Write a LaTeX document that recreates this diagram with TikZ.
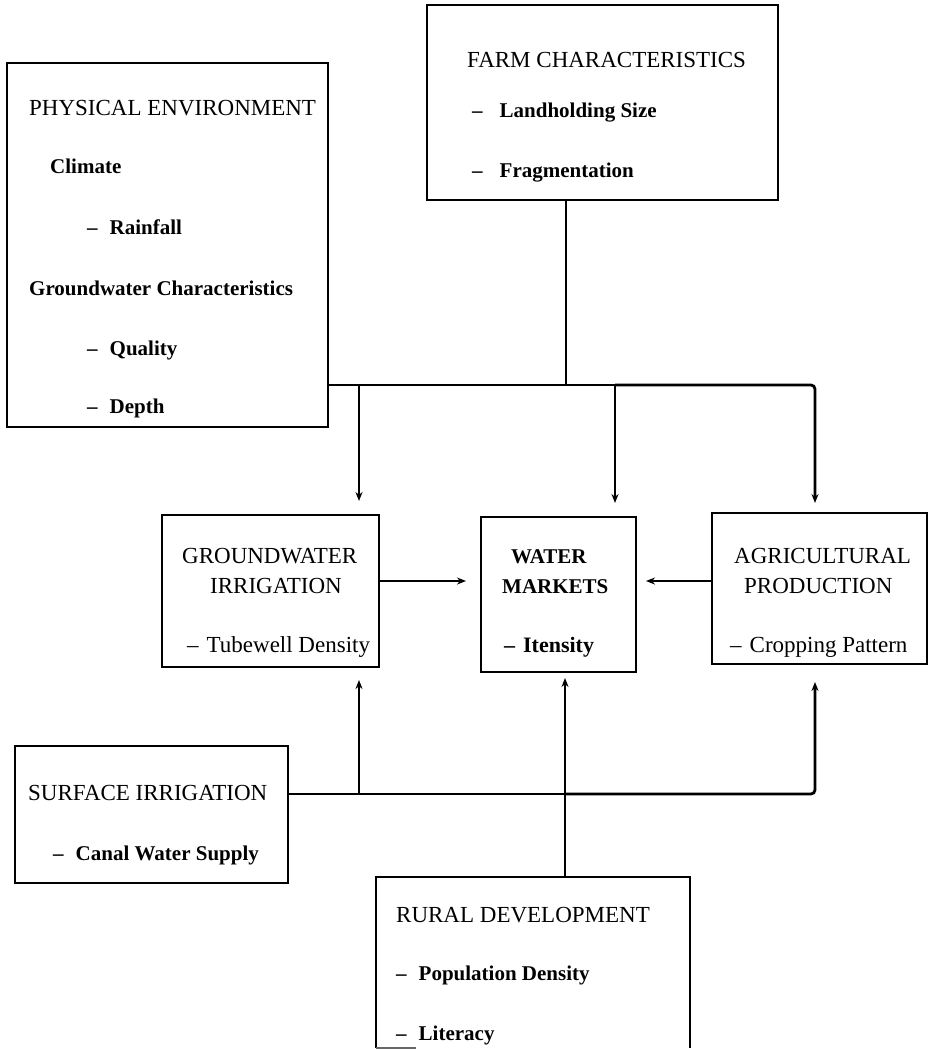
\documentclass[tikz,border=0pt]{standalone}
\usepackage{fontspec}
\setmainfont{Liberation Serif}
\usetikzlibrary{arrows.meta}
\tikzset{
  box/.style={draw=black, line width=2.8pt, rectangle, inner sep=0pt, outer sep=0pt, anchor=north west},
  ttl/.style={font=\fontsize{23}{23}\selectfont, anchor=base west, inner sep=0pt},
  itm/.style={font=\fontsize{21}{21}\selectfont\bfseries, anchor=base west, inner sep=0pt},
  mitm/.style={font=\fontsize{23}{23}\selectfont, anchor=base west, inner sep=0pt},
  wire/.style={line width=2.8pt, draw=black},
  arr/.style={wire, -{Stealth[length=9pt,width=7pt]}}
}
\newcommand{\dsh}[1]{--\hspace{#1pt}}
\begin{document}
\begin{tikzpicture}[x=1pt,y=-1pt]
\path[use as bounding box, fill=white] (0,0) rectangle (930,1050);

% boxes
\node[box, minimum width=321pt, minimum height=364pt] (phys) at (7,63) {};
\node[box, minimum width=351pt, minimum height=195pt] (farm) at (427,5) {};
\node[box, minimum width=217pt, minimum height=152pt] (gw) at (162,515) {};
\node[box, minimum width=155pt, minimum height=155pt] (wm) at (481,517) {};
\node[box, minimum width=215pt, minimum height=151pt] (agri) at (712,513) {};
\node[box, minimum width=273pt, minimum height=137pt] (surf) at (15,746) {};
\node[box, draw=none, minimum width=314pt, minimum height=171pt] (rural) at (376,877) {};
\draw[wire] (rural.south west) -- (rural.north west) -- (rural.north east) -- (rural.south east);
\draw[line width=1.2pt, black!60] (rural.south west) -- ++(40,0);

% texts: physical environment
\node[ttl] (t1) at (29,115) {PHYSICAL ENVIRONMENT};
\node[itm] (t2) at (50,173) {Climate};
\node[itm] (t3) at (87,234) {\dsh{12}Rainfall};
\node[itm] (t4) at (29,295) {Groundwater Characteristics};
\node[itm] (t5) at (87,355) {\dsh{12}Quality};
\node[itm] (t6) at (87,413) {\dsh{12}Depth};
% farm
\node[ttl] (f1) at (467,67) {FARM CHARACTERISTICS};
\node[itm] (f2) at (472,117) {\dsh{17}Landholding Size};
\node[itm] (f3) at (472,177) {\dsh{17}Fragmentation};
% groundwater irrigation
\node[ttl] (g1) at (182,563) {GROUNDWATER};
\node[ttl] (g2) at (210,593) {IRRIGATION};
\node[mitm] (g3) at (187,652) {\dsh{8}Tubewell Density};
% water markets
\node[itm, font=\fontsize{21}{21}\selectfont\bfseries] (w1) at (511,563) {WATER};
\node[itm, font=\fontsize{21}{21}\selectfont\bfseries] (w2) at (502,593) {MARKETS};
\node[itm, font=\fontsize{22}{22}\selectfont\bfseries] (w3) at (504,652) {\dsh{8}Itensity};
% agricultural production
\node[ttl] (a1) at (734,563) {AGRICULTURAL};
\node[ttl] (a2) at (744,593) {PRODUCTION};
\node[mitm] (a3) at (730,652) {\dsh{8}Cropping Pattern};
% surface irrigation
\node[ttl] (s1) at (28,800) {SURFACE IRRIGATION};
\node[itm] (s2) at (53,860) {\dsh{12}Canal Water Supply};
% rural development
\node[ttl] (r1) at (396,922) {RURAL DEVELOPMENT};
\node[itm] (r2) at (396,980) {\dsh{12}Population Density};
\node[itm] (r3) at (396,1040) {\dsh{12}Literacy};

% junction coordinates
\coordinate (jf) at (566,385);
\coordinate (b1) at (359,385);
\coordinate (b2) at (615,385);
\coordinate (b3) at (815,385);
\coordinate (c1) at (359,794);
\coordinate (c2) at (565,794);
\coordinate (c3) at (815,794);
\coordinate (hy) at (0,581);

% top bus
\draw[wire] (farm.south -| jf) -- (jf);
\draw[wire] (phys.east |- b1) -- (b2);
\draw[arr, shorten >=14pt] (b1) -- (gw.north -| b1);
\draw[arr, shorten >=14pt] (b2) -- (wm.north -| b2);
\draw[arr, rounded corners=4pt, shorten >=10pt] (b2) -- (b3) -- (agri.north -| b3);

% middle arrows
\draw[arr, shorten >=15pt] (gw.east |- hy) -- (wm.west |- hy);
\draw[arr, shorten >=10pt] (agri.west |- hy) -- (wm.east |- hy);

% bottom bus
\draw[wire] (surf.east |- c1) -- (c2);
\draw[arr, shorten >=13pt] (c1) -- (gw.south -| c1);
\draw[arr, rounded corners=4pt, shorten >=18pt] (c2) -- (c3) -- (agri.south -| c3);
\draw[arr, shorten >=6pt] (rural.north -| c2) -- (wm.south -| c2);
\end{tikzpicture}
\end{document}
